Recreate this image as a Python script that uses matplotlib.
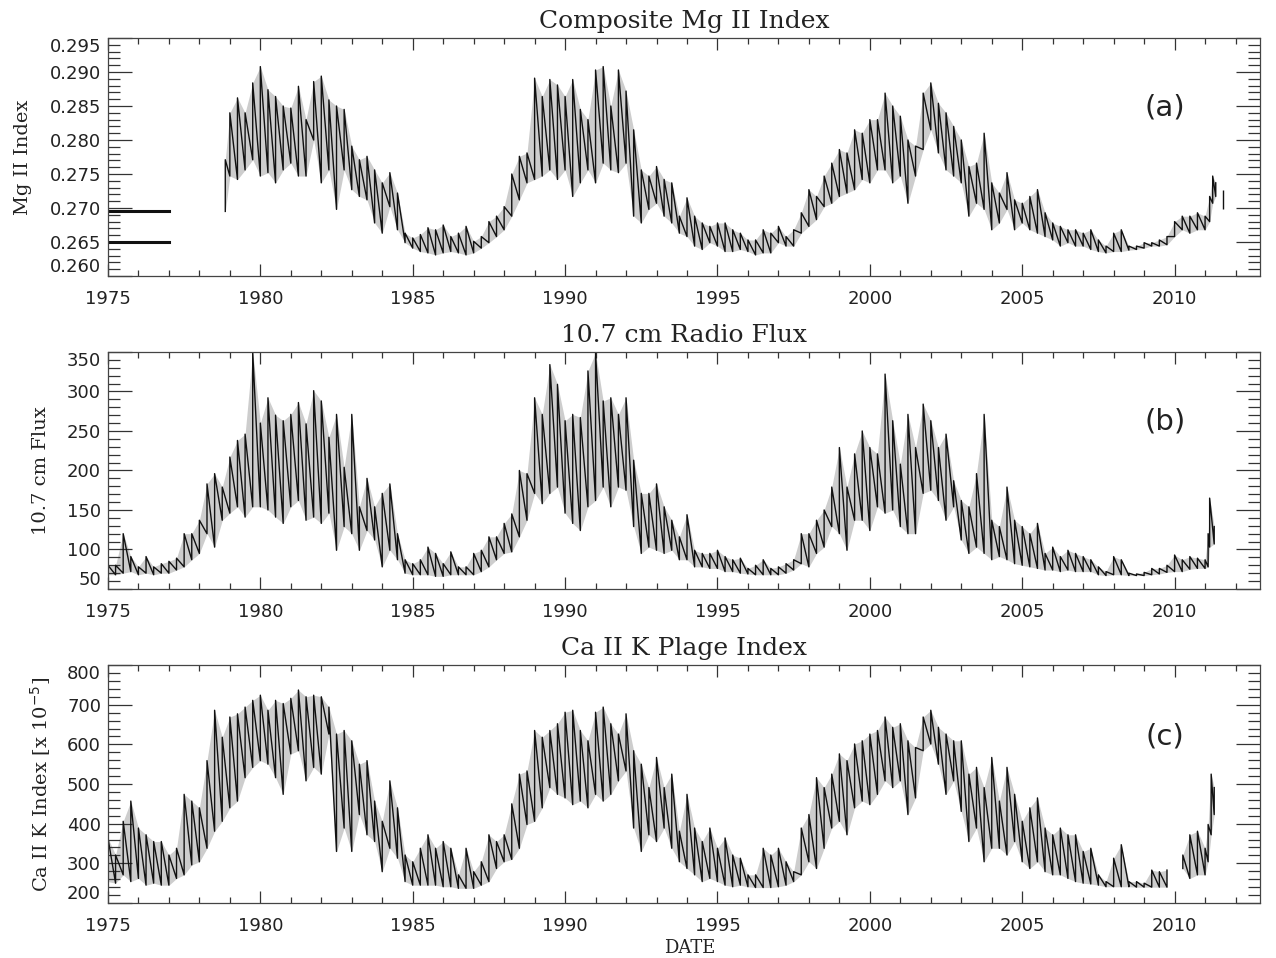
import numpy as np
import matplotlib
matplotlib.use('Agg')
import matplotlib.pyplot as plt
from matplotlib.ticker import MultipleLocator

# ---- data: low / high envelope per quarter year ----
# (a) Composite Mg II index
mg_years = np.concatenate([[1978.85], np.arange(1979.0, 2011.01, 0.25), [2011.15, 2011.25, 2011.35]])
mg_lo = [0.2695,
         .2747, .2742, .2756, .2771, .2747, .2752, .2737, .2756, .2766, .2747, .2747, .2800,
         .2737, .2756, .2698, .2756, .2727, .2717, .2712, .2678, .2663, .2702, .2668, .2649,
         .2641, .2636, .2634, .2631, .2634, .2636, .2634, .2631, .2634, .2641, .2649, .2658,
         .2668, .2688,
         .2712, .2737,
         .2742, .2747, .2756, .2742, .2756, .2717, .2737, .2756, .2737, .2766, .2756, .2752,
         .2766, .2688, .2678, .2698, .2707, .2688, .2678, .2663, .2658, .2644, .2639, .2649,
         .2644, .2636, .2636, .2639, .2636, .2631, .2634, .2634, .2649, .2644, .2644, .2663,
         .2673, .2683, .2702, .2707, .2717, .2722, .2727, .2742, .2737, .2756, .2756, .2737,
         .2747, .2707, .2747, .2786, .2815, .2781, .2756, .2747, .2737, .2688, .2707, .2698,
         .2668, .2678, .2698, .2668, .2678, .2668, .2663, .2658, .2653, .2644, .2649, .2644,
         .2644, .2639, .2636, .2634, .2636, .2636, .2638, .2639, .2641, .2644, .2644, .2646,
         .2658, .2668, .2663, .2668, .2668,
         .2680, .2707, .2717]
mg_hi = [0.2771,
         .2840, .2862, .2840, .2884, .2908, .2874, .2864, .2850, .2847, .2879, .2830, .2886,
         .2894, .2859, .2850, .2845, .2791, .2771, .2776, .2756, .2737, .2752, .2722, .2663,
         .2656, .2661, .2671, .2668, .2675, .2658, .2663, .2673, .2651, .2658, .2680, .2688,
         .2702, .2750,
         .2776, .2781,
         .2891, .2864, .2889, .2881, .2864, .2889, .2845, .2830, .2903, .2908, .2850, .2903,
         .2872, .2815, .2756, .2747, .2761, .2742, .2737, .2688, .2715, .2688, .2678, .2673,
         .2678, .2678, .2668, .2663, .2653, .2653, .2668, .2663, .2673, .2658, .2668, .2693,
         .2727, .2717, .2747, .2766, .2786, .2781, .2815, .2810, .2830, .2830, .2869, .2850,
         .2835, .2800, .2791, .2869, .2884, .2854, .2840, .2820, .2800, .2761, .2766, .2810,
         .2737, .2722, .2752, .2712, .2707, .2717, .2727, .2693, .2678, .2673, .2668, .2668,
         .2663, .2668, .2653, .2644, .2663, .2668, .2644, .2644, .2649, .2649, .2653, .2658,
         .2680, .2688, .2688, .2693, .2688,
         .2717, .2747, .2737]
mg_last_year = [2011.59]
mg_last_lo = [0.2698]
mg_last_hi = [0.2727]
mg_flag_years = [1975.0, 1977.0]
mg_flag_levels = [0.2695, 0.2650]

# (b) 10.7 cm radio flux
f107_years = np.concatenate([np.arange(1975.0, 2011.01, 0.25), [2011.1, 2011.15, 2011.3]])
f107_lo = [68, 68, 70, 72, 68, 70, 68, 70, 70, 74, 78, 87, 95, 120, 103, 137,
           146, 154, 141, 154, 154, 150, 141, 133, 154, 162, 137, 141, 133, 146, 99, 129,
           120, 99, 124, 112, 78, 99, 87, 70, 68, 68, 68, 66, 66, 68, 68, 68,
           68, 72, 78, 87, 95, 97,
           116, 137,
           171, 158, 171, 179, 146, 133, 124, 154, 162, 179, 154, 179, 175, 129, 95, 103,
           99, 95, 99, 87, 87, 78, 78, 76, 76, 72, 72, 70, 69, 68, 68, 68,
           68, 70, 74, 82, 78, 95, 103, 129, 120, 99, 137, 137, 124, 154, 146, 150,
           129, 120, 120, 171, 175, 162, 137, 154, 112, 95, 103, 95, 87, 91, 87, 82,
           80, 78, 76, 74, 74, 72, 74, 72, 72, 72, 68, 67, 68, 68, 67, 67,
           67, 68, 69, 71, 72, 72, 75, 76, 76,
           78, 103, 107]
f107_hi = [80, 80, 120, 91, 78, 91, 78, 82, 85, 89, 120, 120, 137, 183, 196, 179,
           217, 238, 246, 350, 260, 292, 270, 263, 271, 286, 259, 301, 288, 242, 271, 204,
           271, 154, 190, 154, 171, 183, 120, 87, 82, 87, 103, 95, 82, 97, 78, 78,
           95, 99, 116, 116, 133, 145,
           200, 196,
           292, 271, 334, 309, 263, 271, 267, 326, 349, 288, 292, 271, 292, 213, 171, 171,
           183, 154, 137, 116, 144, 99, 95, 95, 99, 91, 87, 89, 76, 80, 87, 76,
           78, 82, 87, 120, 120, 137, 150, 179, 229, 179, 221, 250, 229, 221, 322, 263,
           208, 271, 229, 284, 263, 229, 246, 187, 162, 154, 196, 271, 137, 129, 179, 137,
           129, 120, 133, 95, 103, 91, 99, 95, 91, 87, 78, 72, 91, 87, 70, 69,
           71, 76, 76, 80, 93, 87, 91, 89, 87,
           120, 165, 129]

# (c) Ca II K plage index
cak_years = np.arange(1975.0, 2009.76, 0.25)
cak_lo = [254, 250, 271, 254, 262, 245, 250, 245, 245, 262, 271, 296, 304, 338, 381, 406,
          440, 457, 516, 542, 559, 550, 516, 474, 576, 584, 508, 542, 525, 626, 330, 389,
          330, 423, 372, 355, 279, 338, 313, 254, 245, 245, 245, 245, 241, 241, 237, 237,
          237, 245, 254, 287, 304, 310,
          338, 398,
          406, 440, 491, 474, 465, 448, 457, 440, 474, 457, 474, 508, 533, 389, 330, 372,
          355, 389, 338, 304, 287, 271, 254, 262, 254, 245, 241, 245, 241, 239, 239, 239,
          241, 245, 254, 271, 304, 287, 338, 389, 406, 372, 440, 457, 448, 474, 508, 491,
          508, 423, 465, 584, 601, 550, 474, 508, 431, 355, 389, 304, 338, 338, 321, 355,
          304, 287, 304, 279, 271, 271, 262, 254, 250, 248, 245, 241, 241, 241, 241, 240,
          240, 240, 240, 240]
cak_hi = [364, 321, 406, 457, 389, 372, 355, 355, 321, 338, 474, 457, 440, 559, 686, 618,
          669, 677, 694, 711, 724, 686, 711, 703, 716, 737, 720, 724, 720, 694, 626, 635,
          609, 550, 559, 457, 406, 508, 440, 321, 304, 338, 372, 338, 355, 338, 271, 338,
          279, 304, 372, 355, 372, 450,
          525, 533,
          635, 618, 635, 652, 681, 686, 635, 609, 681, 694, 652, 626, 677, 584, 550, 491,
          567, 491, 525, 381, 474, 389, 355, 389, 338, 364, 321, 313, 271, 271, 338, 321,
          338, 304, 279, 389, 423, 516, 491, 525, 576, 559, 601, 609, 626, 635, 669, 643,
          652, 609, 592, 669, 686, 643, 626, 609, 609, 525, 542, 491, 567, 457, 542, 474,
          406, 440, 465, 389, 372, 389, 372, 372, 330, 338, 271, 254, 313, 347, 254, 254,
          250, 283, 279, 283]
cak2_years = [2010.27, 2010.5, 2010.75, 2011.0, 2011.1, 2011.2, 2011.3]
cak2_lo = [287, 262, 271, 271, 304, 372, 423]
cak2_hi = [321, 372, 381, 338, 398, 525, 491]


def trace(ax, yrs, lo, hi):
    # faint band between the envelopes + low->high stroke at every sample
    yrs = np.asarray(yrs, float)
    ax.fill_between(yrs, lo, hi, color='#cdcdcd', lw=0)
    x = np.repeat(yrs, 2)
    y = np.column_stack([lo, hi]).ravel()
    ax.plot(x, y, color='#111111', lw=1.0)


def style(ax, ymin, ymax, ymajor, yminor, fmt):
    ax.xaxis.set_major_locator(MultipleLocator(5))
    ax.xaxis.set_minor_locator(MultipleLocator(1))
    ax.set_yticks(np.linspace(ymin, ymax, int(round((ymax - ymin) / ymajor)) + 1))
    ax.yaxis.set_minor_locator(MultipleLocator(yminor))
    ax.yaxis.set_major_formatter(plt.FormatStrFormatter(fmt))
    ax.set_xlim(1975, 2012.8)
    ax.set_ylim(ymin, ymax)
    ax.tick_params(which='both', direction='in', top=True, right=True, colors='#333333',
                   labelcolor='#222222', labelsize=13, width=0.9)
    ax.tick_params(axis='x', which='major', length=8.6, pad=10)
    ax.tick_params(axis='x', which='minor', length=4.5)
    ax.tick_params(axis='y', which='major', length=17, pad=5)
    ax.tick_params(axis='y', which='minor', length=8.6)
    for s in ax.spines.values():
        s.set_color('#444444')
        s.set_linewidth(0.9)
    labels = ax.get_yticklabels()
    labels[0].set_va('bottom')
    labels[-1].set_va('top')


fig = plt.figure(figsize=(12.76, 9.58), dpi=100)
serif = 'DejaVu Serif'

axa = fig.add_axes([0.0846, 0.7119, 0.9028, 0.2484])
axb = fig.add_axes([0.0846, 0.3852, 0.9028, 0.2474])
axc = fig.add_axes([0.0846, 0.0574, 0.9028, 0.2484])

# panel (a)
trace(axa, mg_years, mg_lo, mg_hi)
axa.vlines(mg_last_year, mg_last_lo, mg_last_hi, color='#111111', lw=1.0)
for lev in mg_flag_levels:
    axa.plot(mg_flag_years, [lev, lev], color='#111111', lw=2.2)
style(axa, 0.260, 0.295, 0.005, 0.001, '%.3f')
axa.set_title('Composite Mg II Index', family=serif, fontsize=18, pad=7, color='#222222')
axa.set_ylabel('Mg II Index', family=serif, fontsize=14, color='#222222')
axa.yaxis.set_label_coords(-0.066, 0.5)
axa.text(0.9175, 0.706, '(a)', transform=axa.transAxes, ha='center', va='center',
         fontsize=21, color='#222222')

# panel (b)
trace(axb, f107_years, f107_lo, f107_hi)
style(axb, 50, 350, 50, 10, '%d')
axb.set_title('10.7 cm Radio Flux', family=serif, fontsize=18, pad=7, color='#222222')
axb.set_ylabel('10.7 cm Flux', family=serif, fontsize=14, color='#222222')
axb.yaxis.set_label_coords(-0.050, 0.5)
axb.text(0.9175, 0.705, '(b)', transform=axb.transAxes, ha='center', va='center',
         fontsize=21, color='#222222')

# panel (c)
trace(axc, cak_years, cak_lo, cak_hi)
trace(axc, cak2_years, cak2_lo, cak2_hi)
style(axc, 200, 800, 100, 20, '%d')
axc.set_title('Ca II K Plage Index', family=serif, fontsize=18, pad=7, color='#222222')
axc.set_ylabel(r'Ca II K Index [x 10$^{-5}$]', family=serif, fontsize=14, color='#222222')
axc.yaxis.set_label_coords(-0.048, 0.5)
axc.text(0.9175, 0.70, '(c)', transform=axc.transAxes, ha='center', va='center',
         fontsize=21, color='#222222')

fig.text(690 / 1276, 1 - 948 / 958, 'DATE', family=serif, fontsize=13,
         ha='center', va='center', color='#222222')

fig.savefig('out.png', dpi=100)
